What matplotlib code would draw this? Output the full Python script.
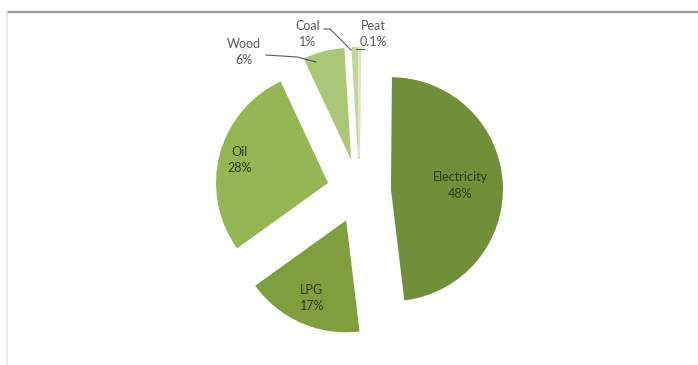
import numpy as np
import matplotlib
matplotlib.use("Agg")
import matplotlib.pyplot as plt

# Household heating fuel shares
fuels = ["Electricity", "LPG", "Oil", "Wood", "Coal", "Peat"]
shares = [48, 17, 28, 6, 1, 0.1]
pct_labels = ["48%", "17%", "28%", "6%", "1%", "0.1%"]
colors = ["#718f38", "#809e3e", "#96b653", "#abc676", "#c4d79b", "#dbe7c4"]

plt.rcParams["font.family"] = ["Lato", "DejaVu Sans"]

W, H = 698, 365
fig = plt.figure(figsize=(W / 100, H / 100), dpi=100)
ax = fig.add_axes([0, 0, 1, 1])

cx, cy, r = 359, H - 191, 112
# pie offsets are in data units here (pixels)
explode = [32] * len(shares)
wedges, _ = ax.pie(shares, explode=explode, colors=colors, startangle=89.5,
                   counterclock=False, radius=r, center=(cx, cy),
                   wedgeprops=dict(linewidth=0))
# the sliver for peat needs an outline to show at all
wedges[-1].set_edgecolor(colors[-1])
wedges[-1].set_linewidth(1.2)

ax.set_xlim(0, W)
ax.set_ylim(0, H)
ax.set_aspect("auto")
ax.axis("off")


def wedge_point(w, frac):
    """Point inside wedge w, at frac of the radius along its middle angle."""
    mid = np.deg2rad((w.theta1 + w.theta2) / 2)
    x0, y0 = w.center
    return x0 + frac * w.r * np.cos(mid), y0 + frac * w.r * np.sin(mid)


# labels inside the big slices
inner = {0: 0.62, 1: 0.76, 2: 0.82}
for i, frac in inner.items():
    x, y = wedge_point(wedges[i], frac)
    ax.text(x, y, f"{fuels[i]}\n{pct_labels[i]}", ha="center", va="center",
            fontsize=9, color="#2e3a16", linespacing=1.45)

# callout labels for the small slices
outer = {3: (244, H - 52), 4: (308, H - 34), 5: (373, H - 34)}
for i, (tx, ty) in outer.items():
    ax.text(tx, ty, f"{fuels[i]}\n{pct_labels[i]}", ha="center", va="center",
            fontsize=9, color="#595959", linespacing=1.45)

# leader lines
ax.plot([266, 297, 316], [H - 55, H - 57, H - 62], color="#595959", lw=0.8)
ax.plot([324, 330, 351], [H - 29, H - 29, H - 50], color="#595959", lw=0.8)
ax.plot([364, 356], [H - 49, H - 49], color="#595959", lw=0.8)

# frame lines along the top and left
ax.plot([7, W], [H - 12, H - 12], color="#9a9a9a", lw=1.6, solid_capstyle="butt")
ax.plot([7, 7], [H - 12, 0], color="#e4e4e4", lw=1.2)

fig.savefig("out.png", dpi=100)
